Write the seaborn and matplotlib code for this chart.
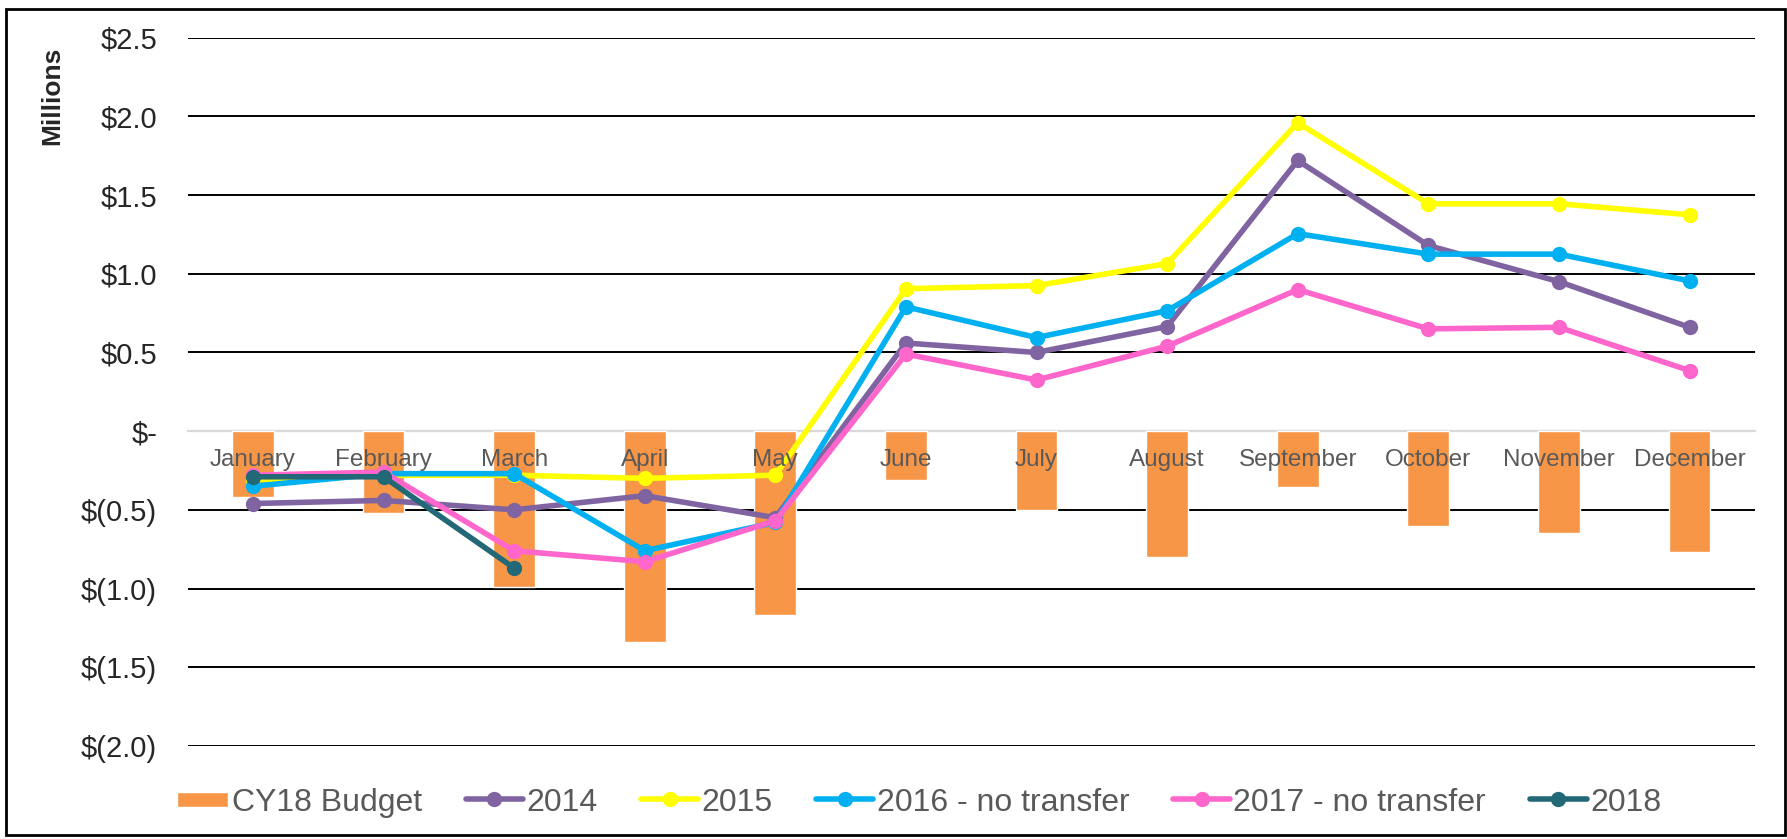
import pandas as pd
import seaborn as sns
import matplotlib.pyplot as plt
from matplotlib.patches import Rectangle
from matplotlib.container import BarContainer
from matplotlib.legend_handler import HandlerPatch, update_from_first_child
from matplotlib.ticker import FuncFormatter

# data (millions of dollars)
months = ['January', 'February', 'March', 'April', 'May', 'June', 'July',
          'August', 'September', 'October', 'November', 'December']
budget_cy18 = [-0.42, -0.52, -0.99, -1.34, -1.17, -0.31, -0.50, -0.80, -0.355, -0.60, -0.65, -0.77]
y2014 = [-0.46, -0.44, -0.50, -0.41, -0.55, 0.56, 0.50, 0.665, 1.72, 1.18, 0.95, 0.66]
y2015 = [-0.31, -0.28, -0.28, -0.30, -0.28, 0.905, 0.925, 1.065, 1.96, 1.445, 1.445, 1.375]
y2016 = [-0.35, -0.27, -0.27, -0.76, -0.58, 0.79, 0.595, 0.765, 1.255, 1.125, 1.125, 0.955]
y2017 = [-0.28, -0.26, -0.76, -0.83, -0.57, 0.49, 0.325, 0.54, 0.90, 0.65, 0.66, 0.385]
y2018 = [-0.29, -0.29, -0.87]

series = [('2014', y2014, '#8064A2'),
          ('2015', y2015, '#FFFF00'),
          ('2016 - no transfer', y2016, '#00B0F0'),
          ('2017 - no transfer', y2017, '#FF66CC'),
          ('2018', y2018, '#236877')]

sns.set_style('white')
plt.rcParams['font.family'] = ['Liberation Sans', 'DejaVu Sans']

fig = plt.figure(figsize=(17.87, 8.39), dpi=100)
ax = fig.add_axes([0.105, 0.111, 0.877, 0.844])

#bars first
bud = pd.DataFrame({'month': months, 'value': budget_cy18})
sns.barplot(data=bud, x='month', y='value', color='#F79646', saturation=1,
            width=0.32, ax=ax, label='CY18 Budget', zorder=2)

for name, vals, col in series:
    d = pd.DataFrame({'month': months[:len(vals)], 'value': vals})
    sns.lineplot(data=d, x='month', y='value', color=col, lw=4.0, marker='o',
                 markersize=11, markeredgewidth=0, ax=ax, label=name, zorder=3, sort=False)

ax.set_xlim(-0.5, 11.5)
ax.set_ylim(-2.0, 2.5)
ax.set_yticks([-2.0, -1.5, -1.0, -0.5, 0.0, 0.5, 1.0, 1.5, 2.0, 2.5])


def money(v, pos):
    if abs(v) < 1e-9:
        return '$-'
    if v < 0:
        return '$({:.1f})'.format(-v)
    return '${:.1f}'.format(v)


ax.yaxis.set_major_formatter(FuncFormatter(money))
ax.yaxis.grid(True, color='black', lw=1.4)
ax.set_axisbelow(True)
ax.xaxis.set_zorder(5)  # month names sit on top of the bars
ax.get_ygridlines()[4].set_visible(False)

for s in ['top', 'right', 'left']:
    ax.spines[s].set_visible(False)
ax.spines['bottom'].set_position(('data', 0))
ax.spines['bottom'].set_color('#D9D9D9')
ax.spines['bottom'].set_linewidth(1.6)
ax.spines['bottom'].set_zorder(1.5)

ax.set_xticks([i + 0.5 for i in range(-1, 12)], minor=True)
ax.tick_params(axis='x', which='minor', length=7, width=1.4, color='#D9D9D9', direction='out')
ax.tick_params(axis='x', which='major', length=0, pad=13, labelsize=17.5, labelcolor='#595959')
ax.tick_params(axis='y', length=0, pad=22, labelsize=21)

ax.set_xlabel('')
ax.set_ylabel('Millions', fontsize=19, fontweight='bold')
ax.yaxis.set_label_coords(-0.0785, 0.918)


def small_box(legend, orig_handle, xdescent, ydescent, width, height, fontsize):
    return Rectangle((-xdescent + width - 37, -ydescent + (height - 11) / 2), 37, 11)


h, l = ax.get_legend_handles_labels()
order = [l.index('CY18 Budget')] + [i for i in range(len(l)) if l[i] != 'CY18 Budget']
ax.legend([h[i] for i in order], [l[i] for i in order], loc='center', ncol=6,
          bbox_to_anchor=(0.465, -0.08), frameon=False, fontsize=23, labelcolor='#595959',
          handlelength=1.78, handletextpad=0.1, columnspacing=1.38,
          handler_map={BarContainer: HandlerPatch(patch_func=small_box,
                                                  update_func=update_from_first_child)})

fig.patches.append(Rectangle((6 / 1787, 4 / 839), 1779 / 1787, 826 / 839,
                             transform=fig.transFigure, fill=False, ec='black', lw=2))

fig.savefig('out.png', dpi=100)
